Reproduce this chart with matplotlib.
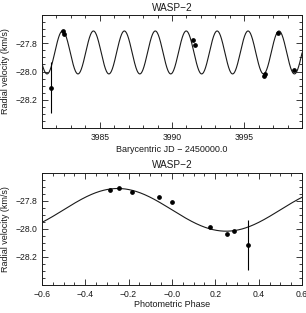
import matplotlib
matplotlib.use('Agg')
import matplotlib.pyplot as plt
import numpy as np
from matplotlib.ticker import MultipleLocator

plt.rcParams['font.family'] = ['Liberation Sans', 'DejaVu Sans']

bjd   = [3981.60, 3982.43, 3982.56, 3991.45, 3991.57, 3996.38, 3996.45, 3997.35, 3998.43]
phase = [0.352, -0.245, -0.186, -0.058, 0.000, 0.252, 0.288, -0.285, 0.174]
rv    = [-28.115, -27.711, -27.735, -27.777, -27.810, -28.035, -28.018, -27.724, -27.986]
rv_err = [0.18, 0.0, 0.0, 0.0, 0.0, 0.0, 0.0, 0.0, 0.0]

# orbital model: v = gamma - K sin(2 pi phase)
gamma = -27.865
K = 0.152
P = 2.14
T0 = 3982.96

title = 'WASP\u22122'
ylab = 'Radial velocity (km/s)'
phase_ticks = [-0.6, -0.4, -0.2, 0.0, 0.2, 0.4, 0.6]
phase_labels = ['\u22120.6', '\u22120.4', '\u22120.2', '\u22120.0', '0.2', '0.4', '0.6']

col = '#1a1a1a'
fig = plt.figure(figsize=(3.06, 3.13), dpi=100)


def style(ax):
    ax.tick_params(which='both', direction='in', top=True, right=True,
                   labelsize=6.2, colors=col, width=0.6)
    ax.tick_params(which='major', length=4.2)
    ax.tick_params(which='minor', length=2.2)
    for s in ax.spines.values():
        s.set_linewidth(0.7)
        s.set_color(col)
    ax.set_ylim(-28.4, -27.6)
    ax.yaxis.set_minor_locator(MultipleLocator(0.05))
    ax.set_yticks([-27.8, -28.0, -28.2])
    ax.set_yticklabels(['\u221227.8', '\u221228.0', '\u221228.2'])
    ax.set_ylabel(ylab, fontsize=6.5, color=col, labelpad=4)
    ax.set_title(title, fontsize=7.2, color=col, pad=3)


# top: time series
ax1 = fig.add_axes([0.137, 0.591, 0.850, 0.361])
t = np.linspace(3981, 3999, 1500)
ax1.plot(t, gamma - K*np.sin(2*np.pi*(t - T0)/P), color=col, lw=0.8)
ax1.errorbar(bjd, rv, yerr=rv_err, fmt='o', ms=2.4, color='k', ecolor='k',
             elinewidth=0.8, capsize=0)
ax1.set_xlim(3981, 3999)
ax1.xaxis.set_major_locator(MultipleLocator(5))
ax1.xaxis.set_minor_locator(MultipleLocator(1))
ax1.set_xlabel('Barycentric JD \u2212 2450000.0', fontsize=6.5, color=col, labelpad=2)
style(ax1)

# bottom: phase folded
ax2 = fig.add_axes([0.137, 0.0895, 0.850, 0.359])
ph = np.linspace(-0.6, 0.6, 500)
ax2.plot(ph, gamma - K*np.sin(2*np.pi*ph), color=col, lw=0.8)
ax2.errorbar(phase, rv, yerr=rv_err, fmt='o', ms=2.4, color='k', ecolor='k',
             elinewidth=0.8, capsize=0)
ax2.set_xlim(-0.6, 0.6)
ax2.set_xticks(phase_ticks)
ax2.set_xticklabels(phase_labels)
ax2.xaxis.set_minor_locator(MultipleLocator(0.05))
ax2.set_xlabel('Photometric Phase', fontsize=6.5, color=col, labelpad=1)
style(ax2)

fig.savefig('out.png', dpi=100)
